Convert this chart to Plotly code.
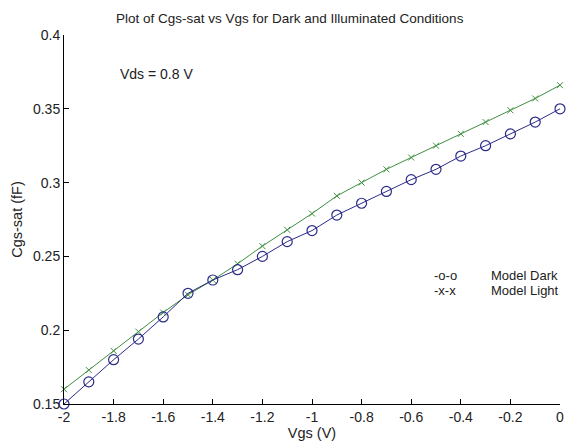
import plotly.graph_objects as go

vgs = [-2.0, -1.9, -1.8, -1.7, -1.6, -1.5, -1.4, -1.3, -1.2, -1.1, -1.0,
       -0.9, -0.8, -0.7, -0.6, -0.5, -0.4, -0.3, -0.2, -0.1, 0.0]
cgs_dark = [0.150, 0.165, 0.180, 0.194, 0.209, 0.225, 0.234, 0.241, 0.250, 0.260, 0.2675,
            0.278, 0.286, 0.294, 0.302, 0.309, 0.318, 0.325, 0.333, 0.341, 0.350]
cgs_light = [0.160, 0.173, 0.186, 0.199, 0.212, 0.224, 0.234, 0.245, 0.257, 0.268, 0.279,
             0.291, 0.300, 0.309, 0.317, 0.325, 0.333, 0.341, 0.349, 0.357, 0.366]
x_ticks = [-2, -1.8, -1.6, -1.4, -1.2, -1, -0.8, -0.6, -0.4, -0.2, 0]
x_tick_labels = ["-2", "-1.8", "-1.6", "-1.4", "-1.2", "-1", "-0.8", "-0.6", "-0.4", "-0.2", "0"]
y_ticks = [0.15, 0.2, 0.25, 0.3, 0.35, 0.4]
y_tick_labels = ["0.15", "0.2", "0.25", "0.3", "0.35", "0.4"]

FONT = "Liberation Sans, Arial, sans-serif"

fig = go.Figure()
fig.add_trace(go.Scatter(
    x=vgs, y=cgs_light, mode="lines+markers", name="Model Light",
    line=dict(color="#3f8f3f", width=1),
    marker=dict(symbol="x-thin", size=6, line=dict(color="#3f8f3f", width=1)),
    cliponaxis=False))
fig.add_trace(go.Scatter(
    x=vgs, y=cgs_dark, mode="lines+markers", name="Model Dark",
    line=dict(color="#2b2b8a", width=1),
    marker=dict(symbol="circle-open", size=10, line=dict(color="#2b2b8a", width=1.2)),
    cliponaxis=False))

fig.update_layout(
    width=568, height=445,
    margin=dict(l=64, r=4, t=35, b=41),
    paper_bgcolor="white", plot_bgcolor="white",
    showlegend=False,
    font=dict(family=FONT, size=14, color="#222"),
    title=dict(text="Plot of Cgs-sat vs Vgs for Dark and Illuminated Conditions",
               x=0.51, xanchor="center", y=0.96, yanchor="middle",
               font=dict(size=13.5, family=FONT, color="#222")),
    xaxis=dict(range=[-2, 0], tickvals=x_ticks, ticktext=x_tick_labels,
               showgrid=False, zeroline=False, showline=True, linecolor="black", linewidth=1,
               ticks="inside", ticklen=5, tickcolor="black", ticklabeloverflow="allow",
               tickfont=dict(size=14),
               title=dict(text="Vgs (V)", standoff=1, font=dict(size=14.5))),
    yaxis=dict(range=[0.15, 0.4], tickvals=y_ticks, ticktext=y_tick_labels,
               showgrid=False, zeroline=False, showline=True, linecolor="black", linewidth=1,
               ticks="inside", ticklen=5, tickcolor="black", ticklabeloverflow="allow",
               tickfont=dict(size=14),
               title=dict(text="Cgs-sat (fF)", standoff=6, font=dict(size=14.5))),
    annotations=[
        dict(text="Vds = 0.8 V", xref="paper", yref="paper", x=0.108, y=0.894,
             xanchor="left", yanchor="middle", showarrow=False, font=dict(size=14)),
        dict(text="-o-o", xref="paper", yref="paper", x=0.742, y=0.348,
             xanchor="left", yanchor="middle", showarrow=False, font=dict(size=13)),
        dict(text="Model Dark", xref="paper", yref="paper", x=0.856, y=0.348,
             xanchor="left", yanchor="middle", showarrow=False, font=dict(size=13)),
        dict(text="-x-x", xref="paper", yref="paper", x=0.742, y=0.307,
             xanchor="left", yanchor="middle", showarrow=False, font=dict(size=13)),
        dict(text="Model Light", xref="paper", yref="paper", x=0.856, y=0.307,
             xanchor="left", yanchor="middle", showarrow=False, font=dict(size=13)),
    ],
)

fig.write_html("out.html")
